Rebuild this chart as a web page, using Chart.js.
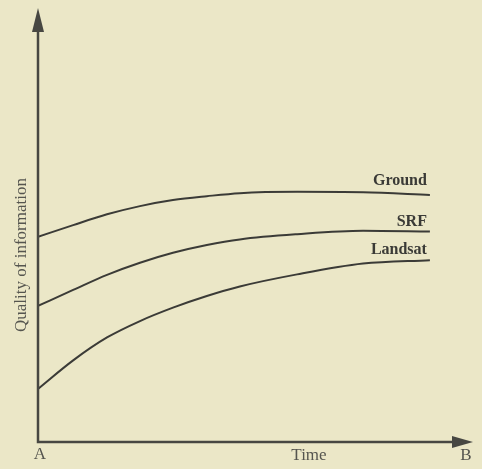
<!DOCTYPE html>
<html>
<head>
<meta charset="utf-8">
<script src="https://cdn.jsdelivr.net/npm/chart.js@4"></script>
<style>
  html, body { margin: 0; padding: 0; background: #ebe7c7; }
  #wrap { width: 482px; height: 469px; position: relative; }
</style>
</head>
<body>
<div id="wrap"><canvas id="qualityChart"></canvas></div>
<script>
// time positions (0 = A, 100 = B)
const timePoints = [0, 8.1, 15.9, 23.5, 31.1, 38.9, 46.5, 59.7, 74.9, 90.3];
const seriesNames = ['Ground', 'SRF', 'Landsat'];
const groundValues = [47.5, 50.2, 52.7, 54.6, 56.0, 56.9, 57.6, 57.9, 57.8, 57.2];
const srfValues = [31.5, 35.2, 38.7, 41.5, 43.8, 45.6, 46.9, 48.1, 48.9, 48.7];
const landsatValues = [12.3, 18.9, 24.2, 28.0, 31.1, 33.8, 36.0, 38.8, 41.3, 42.1];
const axisLabels = { y: 'Quality of information', x: 'Time', start: 'A', end: 'B' };

const ink = '#3b3b37';
const serif = '"Liberation Serif", "DejaVu Serif", serif';

function toPoints(vals) {
    return vals.map((v, i) => ({ x: timePoints[i], y: v }));
}

// axes with arrows + text labels
const sketchPlugin = {
    id: 'sketch',
    afterDatasetsDraw(chart) {
        const { ctx, chartArea: a, scales } = chart;
        ctx.save();
        ctx.strokeStyle = '#474742';
        ctx.fillStyle = '#474742';
        ctx.lineWidth = 2.5;
        ctx.beginPath();
        ctx.moveTo(a.left, a.top + 12);
        ctx.lineTo(a.left, a.bottom);
        ctx.lineTo(a.right - 12, a.bottom);
        ctx.stroke();
        // y arrow
        ctx.beginPath();
        ctx.moveTo(a.left, a.top - 2);
        ctx.lineTo(a.left - 6, a.top + 22);
        ctx.lineTo(a.left + 6, a.top + 22);
        ctx.closePath();
        ctx.fill();
        // x arrow
        ctx.beginPath();
        ctx.moveTo(a.right + 1, a.bottom);
        ctx.lineTo(a.right - 20, a.bottom - 6);
        ctx.lineTo(a.right - 20, a.bottom + 6);
        ctx.closePath();
        ctx.fill();

        // series names at line ends
        ctx.fillStyle = '#3a3a36';
        ctx.font = 'bold 16px ' + serif;
        ctx.textAlign = 'right';
        ctx.textBaseline = 'middle';
        const last = timePoints.length - 1;
        const ends = [groundValues[last], srfValues[last], landsatValues[last]];
        const lift = [14, 10, 10];
        seriesNames.forEach((name, i) => {
            const px = scales.x.getPixelForValue(timePoints[last]) - 3;
            const py = scales.y.getPixelForValue(ends[i]) - lift[i];
            ctx.fillText(name, px, py);
        });

        // axis titles
        ctx.font = '17px ' + serif;
        ctx.fillStyle = '#55554f';
        ctx.textAlign = 'center';
        ctx.fillText(axisLabels.x, 309, 456);
        ctx.fillText(axisLabels.start, 40, 455);
        ctx.fillText(axisLabels.end, 466, 456);
        ctx.translate(22, 255);
        ctx.rotate(-Math.PI / 2);
        ctx.fillText(axisLabels.y, 0, 0);
        ctx.restore();
    }
};

const ctx = document.getElementById('qualityChart').getContext('2d');
new Chart(ctx, {
    type: 'line',
    data: {
        datasets: [
            { label: seriesNames[0], data: toPoints(groundValues) },
            { label: seriesNames[1], data: toPoints(srfValues) },
            { label: seriesNames[2], data: toPoints(landsatValues) }
        ].map(d => Object.assign(d, {
            borderColor: ink,
            borderWidth: 2,
            pointRadius: 0,
            fill: false,
            cubicInterpolationMode: 'monotone'
        }))
    },
    options: {
        responsive: true,
        maintainAspectRatio: false,
        animation: false,
        layout: { padding: { left: 38, top: 10, right: 10, bottom: 27 } },
        scales: {
            x: { type: 'linear', min: 0, max: 100, display: false },
            y: { min: 0, max: 100, display: false }
        },
        plugins: {
            legend: { display: false },
            tooltip: { enabled: false }
        }
    },
    plugins: [sketchPlugin]
});
</script>
</body>
</html>
